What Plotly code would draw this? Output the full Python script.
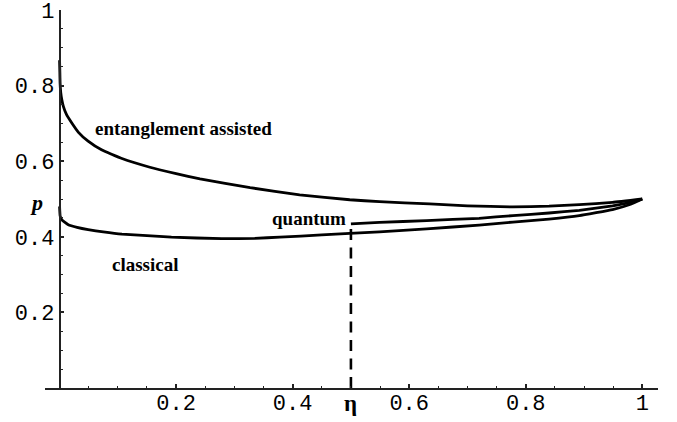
import plotly.graph_objects as go

# Entanglement-assisted curve
eta_ea = [0.0, 0.0005, 0.0009, 0.002, 0.0038, 0.0065, 0.012, 0.021, 0.032, 0.049, 0.072, 0.107,
          0.155, 0.2, 0.241, 0.327, 0.412, 0.498, 0.549, 0.635, 0.7, 0.778, 0.84, 0.892, 0.949, 1.0]
p_ea = [0.867, 0.835, 0.807, 0.782, 0.763, 0.745, 0.723, 0.701, 0.677, 0.653, 0.630, 0.607,
        0.584, 0.567, 0.553, 0.530, 0.511, 0.498, 0.493, 0.487, 0.482, 0.479, 0.481, 0.485, 0.491, 0.5]

# Classical curve
eta_cl = [0.0, 0.001, 0.004, 0.015, 0.03, 0.049, 0.075, 0.107, 0.15, 0.192, 0.278, 0.335, 0.378,
          0.45, 0.498, 0.549, 0.63, 0.72, 0.778, 0.84, 0.892, 0.949, 0.98, 1.0]
p_cl = [0.480, 0.455, 0.445, 0.432, 0.425, 0.419, 0.413, 0.407, 0.403, 0.399, 0.395, 0.396, 0.399,
        0.405, 0.409, 0.413, 0.421, 0.431, 0.439, 0.447, 0.456, 0.472, 0.486, 0.5]

# Quantum curve
eta_q = [0.5, 0.549, 0.63, 0.72, 0.778, 0.84, 0.892, 0.949, 0.98, 1.0]
p_q = [0.434, 0.438, 0.443, 0.449, 0.456, 0.463, 0.470, 0.482, 0.491, 0.5]

# Threshold (dashed)
eta_thr = [0.5, 0.5]
p_thr = [0.0, 0.434]

x_ticks = [0.2, 0.4, 0.6, 0.8, 1.0]
x_ticktext = ["0.2", "0.4", "0.6", "0.8", "1"]
y_ticks = [0.2, 0.4, 0.6, 0.8, 1.0]
y_ticktext = ["0.2", "0.4", "0.6", "0.8", "1"]

line = dict(color="black", width=2.8)
fig = go.Figure()
fig.add_trace(go.Scatter(x=eta_ea, y=p_ea, mode="lines", line=dict(**line, shape="spline", smoothing=0.3)))
fig.add_trace(go.Scatter(x=eta_cl, y=p_cl, mode="lines", line=dict(**line, shape="spline", smoothing=0.3)))
fig.add_trace(go.Scatter(x=eta_q, y=p_q, mode="lines", line=dict(**line, shape="spline", smoothing=0.3)))
fig.add_trace(go.Scatter(x=eta_thr, y=p_thr, mode="lines", line=dict(color="black", width=2.6, dash="11px,7.5px")))

xmin, xmax = -0.025, 1.027
tickfont = dict(family="Liberation Mono", size=22, color="black")
minor = dict(dtick=0.05, tick0=0, ticks="inside", ticklen=2.5, tickwidth=1.3, tickcolor="#222")
fig.update_layout(
    width=677, height=422,
    margin=dict(l=45, r=19, t=10, b=34),
    plot_bgcolor="white", paper_bgcolor="white",
    showlegend=False,
    xaxis=dict(range=[xmin, xmax], showgrid=False, zeroline=False, showline=True, automargin=False,
               linecolor="#222", linewidth=1.6, ticks="inside", ticklen=4, tickwidth=1.5,
               tickcolor="#222", tickvals=x_ticks, ticktext=x_ticktext, tickfont=tickfont,
               ticklabeloverflow="allow", ticklabelstandoff=-6, minor=minor),
    yaxis=dict(range=[0, 1], showgrid=False, zeroline=False, showline=True, automargin=False,
               anchor="free", position=(0 - xmin) / (xmax - xmin),
               linecolor="#222", linewidth=1.6, ticks="inside", ticklen=4, tickwidth=1.5,
               tickcolor="#222", tickvals=y_ticks, ticktext=y_ticktext, tickfont=tickfont,
               ticklabeloverflow="allow", minor=minor),
)

lab = dict(family="Liberation Serif", size=19, color="black")
fig.add_annotation(x=0.213, y=0.686, text="<b>entanglement assisted</b>", showarrow=False, font=lab)
fig.add_annotation(x=0.428, y=0.448, text="<b>quantum</b>", showarrow=False, font=lab)
fig.add_annotation(x=0.148, y=0.326, text="<b>classical</b>", showarrow=False, font=lab)
fig.add_annotation(x=0.5, xref="x", y=-0.08, yref="paper", text="<b>η</b>", showarrow=False,
                   font=dict(family="Liberation Serif", size=23, color="black"))
fig.add_annotation(x=(28 - 45) / 613, xref="paper", y=0.49, yref="y", text="<b><i>p</i></b>", showarrow=False,
                   font=dict(family="Liberation Serif", size=22, color="black"))

# remove the browser's default 8px body margin so the figure fills the window exactly
fig.write_html("out.html", config={"displayModeBar": False},
               post_script="document.body.style.margin='0';")
